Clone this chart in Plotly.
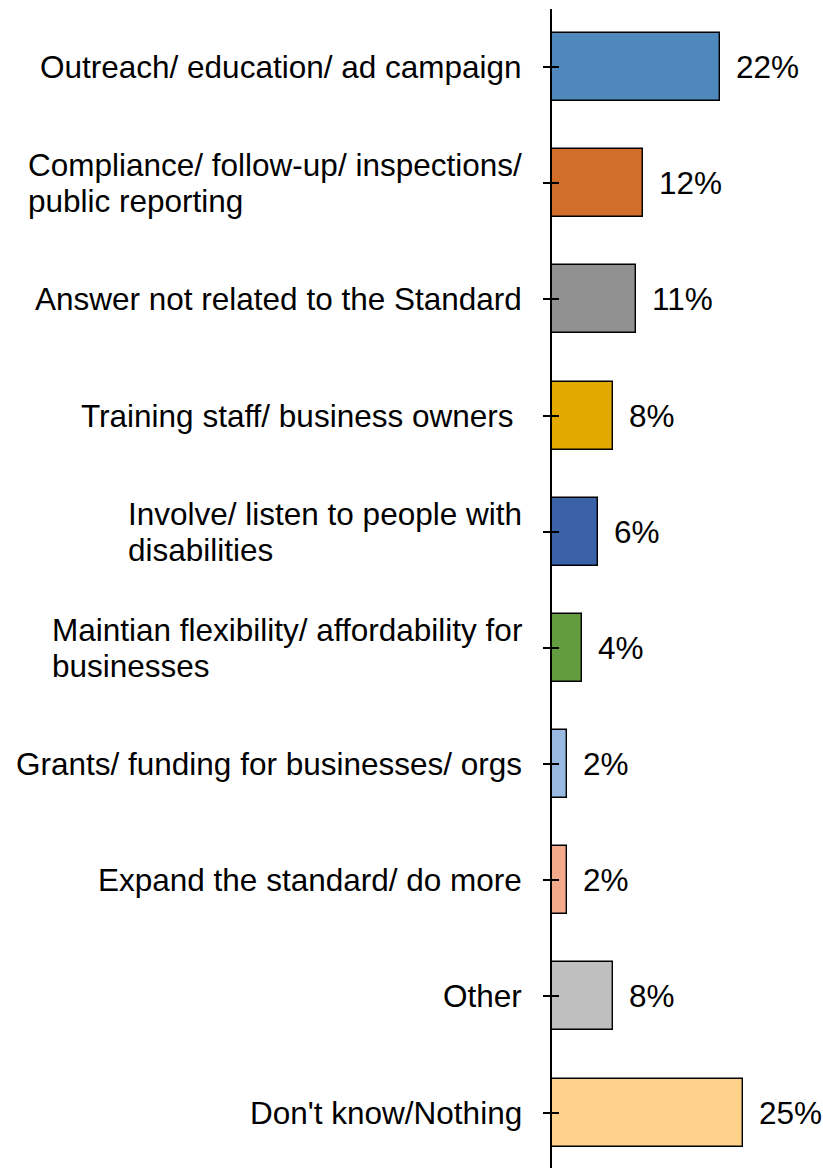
import plotly.graph_objects as go

# Survey responses: suggested improvements
categories = [
    "Outreach/ education/ ad campaign",
    "Compliance/ follow-up/ inspections/<br>public reporting",
    "Answer not related to the Standard",
    "Training staff/ business owners\u00a0",
    "Involve/ listen to people with<br>disabilities",
    "Maintian flexibility/ affordability for<br>businesses",
    "Grants/ funding for businesses/ orgs",
    "Expand the standard/ do more",
    "Other",
    "Don't know/Nothing",
]
values = [22, 12, 11, 8, 6, 4, 2, 2, 8, 25]
colors = [
    "#4F88BB", "#D26D2A", "#919191", "#E2A900", "#3B62A9",
    "#629C3E", "#98BAE0", "#F2A98C", "#BFBFBF", "#FFD18A",
]

FONT = "Liberation Sans, Arial, sans-serif"
TEXT_PX = 31.5   # glyph size
BASE_PX = 28     # base size, sets the line spacing of two-line labels
ids = list(range(len(categories)))


def sized(text):
    parts = text.split("<br>")
    return "<br>".join(f'<span style="font-size:{TEXT_PX}px">{p}</span>' for p in parts)


fig = go.Figure()
fig.add_trace(go.Bar(
    x=values,
    y=ids,
    orientation="h",
    width=0.585,
    marker=dict(color=colors, line=dict(color="black", width=1.4)),
    hoverinfo="skip",
))
# dummy trace so the overlaid axis carries the same categories
fig.add_trace(go.Scatter(
    x=[0] * len(ids), y=ids, yaxis="y2", mode="markers",
    marker=dict(opacity=0), hoverinfo="skip", showlegend=False,
))

annotations = []
for i, (cat, v) in enumerate(zip(categories, values)):
    annotations.append(dict(
        x=0, y=i, xref="x", yref="y", text=sized(cat), showarrow=False,
        xanchor="right", yanchor="middle", align="left", xshift=-28,
        font=dict(family=FONT, size=BASE_PX, color="black"),
    ))
    annotations.append(dict(
        x=v, y=i, xref="x", yref="y", text=sized(f"{v}%"), showarrow=False,
        xanchor="left", yanchor="middle", xshift=14,
        font=dict(family=FONT, size=BASE_PX, color="black"),
    ))

yrange = [9.477, -0.5]
fig.update_layout(
    width=823, height=1168,
    margin=dict(l=552, r=0, t=9, b=0),
    paper_bgcolor="white", plot_bgcolor="white",
    showlegend=False,
    bargap=0,
    annotations=annotations,
    xaxis=dict(range=[0, 35.55], visible=False, fixedrange=True),
    yaxis=dict(
        range=yrange, tickvals=ids, showticklabels=False,
        showline=True, linecolor="black", linewidth=1.5,
        ticks="outside", ticklen=7, tickwidth=1.5, tickcolor="black",
        showgrid=False, zeroline=False, layer="above traces",
    ),
    yaxis2=dict(
        range=yrange, tickvals=ids, showticklabels=False, overlaying="y",
        anchor="x", side="left", showline=False,
        ticks="inside", ticklen=7, tickwidth=1.5, tickcolor="black",
        showgrid=False, zeroline=False, layer="above traces",
    ),
)

fig.write_html("out.html")
